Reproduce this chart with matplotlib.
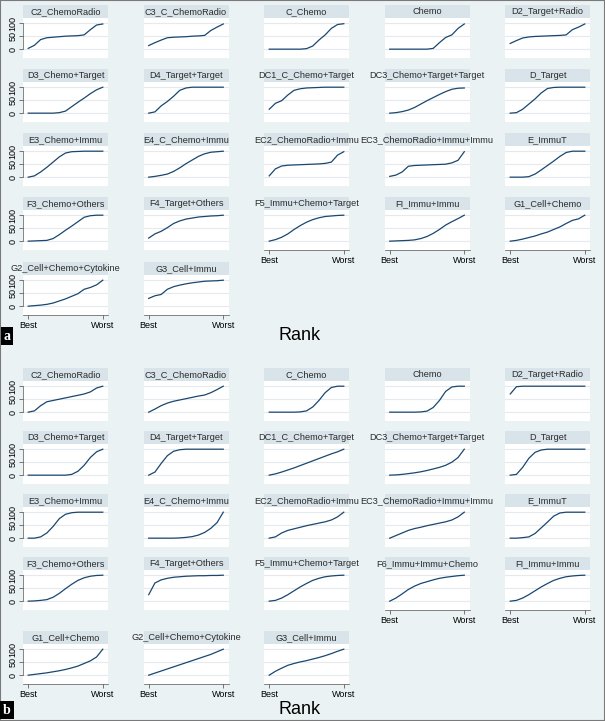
import matplotlib
matplotlib.use('Agg')
import matplotlib.pyplot as plt
from matplotlib.patches import Rectangle

plt.rcParams['font.family'] = ['Liberation Sans', 'DejaVu Sans']

# rank position, 0 = Best, 1 = Worst
rank_pos = [0, 1/12, 2/12, 3/12, 4/12, 5/12, 6/12, 7/12, 8/12, 9/12, 10/12, 11/12, 1]

# ---- panel a: cumulative ranking curves (%)
a_c2_chemoradio = [3, 15, 37, 44, 46, 48, 50, 51, 52, 55, 75, 93, 97]
a_c3_c_chemoradio = [14, 25, 35, 44, 46, 47, 48, 50, 51, 53, 72, 85, 97]
a_c_chemo = [0, 0, 0, 0, 0, 0, 2, 12, 35, 55, 80, 95, 98]
a_chemo = [0, 0, 0, 0, 0, 0, 0, 3, 25, 45, 55, 80, 97]
a_d2_target_radio = [22, 33, 43, 47, 49, 50, 51, 52, 53, 55, 75, 85, 97]
a_d3_chemo_target = [0, 0, 0, 0, 0, 2, 8, 25, 42, 58, 75, 90, 100]
a_d4_target_target = [0, 5, 28, 45, 65, 88, 97, 100, 100, 100, 100, 100, 100]
a_dc1_c_chemo_target = [15, 38, 48, 70, 88, 94, 97, 98, 99, 100, 100, 100, 100]
a_dc3_chemo_target_target = [0, 2, 6, 12, 22, 35, 48, 60, 72, 83, 92, 96, 97]
a_d_target = [0, 2, 15, 35, 55, 78, 95, 99, 100, 100, 100, 100, 100]
a_e3_chemo_immu = [0, 5, 20, 38, 58, 78, 93, 98, 99, 100, 100, 100, 100]
a_e4_c_chemo_immu = [0, 3, 7, 12, 22, 36, 52, 66, 80, 90, 96, 98, 100]
a_ec2_chemoradio_immu = [5, 32, 43, 46, 47, 48, 49, 50, 51, 53, 58, 85, 98]
a_ec3_chemoradio_immu_immu = [3, 8, 20, 42, 45, 46, 47, 48, 49, 50, 55, 65, 98]
a_e_immut = [0, 0, 0, 2, 12, 28, 45, 62, 80, 95, 100, 100, 100]
a_f3_chemo_others = [0, 1, 2, 3, 10, 25, 42, 58, 75, 92, 98, 100, 100]
a_f4_target_others = [12, 28, 38, 52, 68, 78, 85, 89, 93, 95, 97, 98, 100]
a_f5_immu_chemo_target = [0, 6, 15, 28, 45, 60, 73, 83, 90, 95, 97, 99, 100]
a_fi_immu_immu = [0, 1, 2, 3, 5, 10, 18, 30, 45, 62, 75, 87, 100]
a_g1_cell_chemo = [0, 3, 8, 14, 20, 28, 35, 45, 55, 68, 80, 86, 100]
a_g2_cell_chemo_cytokine = [0, 2, 4, 7, 12, 20, 28, 38, 48, 65, 72, 82, 100]
a_g3_cell_immu = [30, 40, 45, 65, 75, 81, 86, 90, 93, 96, 97, 98, 100]

# ---- panel b
b_c2_chemoradio = [0, 5, 25, 40, 45, 50, 55, 60, 65, 70, 78, 93, 100]
b_c3_c_chemoradio = [0, 12, 25, 35, 42, 47, 52, 57, 62, 66, 75, 87, 100]
b_c_chemo = [0, 0, 0, 0, 0, 1, 5, 20, 45, 75, 95, 100, 100]
b_chemo = [0, 0, 0, 0, 0, 1, 4, 18, 45, 80, 97, 100, 100]
b_d2_target_radio = [70, 98, 100, 100, 100, 100, 100, 100, 100, 100, 100, 100, 100]
b_d3_chemo_target = [0, 0, 0, 0, 0, 0, 0, 3, 15, 38, 68, 90, 100]
b_d4_target_target = [0, 12, 45, 75, 92, 98, 100, 100, 100, 100, 100, 100, 100]
b_dc1_c_chemo_target = [0, 5, 12, 20, 28, 37, 46, 55, 64, 73, 82, 90, 100]
b_dc3_chemo_target_target = [0, 1, 3, 6, 9, 13, 18, 24, 30, 38, 50, 68, 100]
b_d_target = [0, 3, 30, 65, 88, 97, 100, 100, 100, 100, 100, 100, 100]
b_e3_chemo_immu = [0, 0, 5, 20, 45, 75, 92, 98, 100, 100, 100, 100, 100]
b_e4_c_chemo_immu = [0, 0, 0, 0, 0, 1, 3, 6, 12, 22, 38, 60, 100]
b_ec2_chemoradio_immu = [0, 5, 20, 30, 36, 42, 48, 53, 58, 63, 70, 82, 100]
b_ec3_chemoradio_immu_immu = [0, 10, 20, 30, 37, 42, 48, 53, 58, 63, 70, 82, 100]
b_e_immut = [0, 0, 2, 5, 18, 40, 62, 85, 97, 100, 100, 100, 100]
b_f3_chemo_others = [0, 1, 3, 6, 15, 30, 48, 65, 80, 90, 96, 99, 100]
b_f4_target_others = [25, 70, 82, 88, 92, 94, 96, 97, 98, 98, 99, 99, 100]
b_f5_immu_chemo_target = [0, 3, 12, 25, 40, 55, 68, 80, 88, 94, 97, 99, 100]
b_f6_immu_immu_chemo = [0, 12, 28, 45, 58, 68, 75, 82, 88, 92, 95, 98, 100]
b_fi_immu_immu = [0, 3, 12, 25, 40, 55, 68, 80, 88, 94, 97, 99, 100]
b_g1_cell_chemo = [0, 3, 6, 9, 13, 17, 22, 28, 35, 45, 55, 70, 100]
b_g2_cell_chemo_cytokine = [0, 8, 16, 24, 32, 40, 48, 56, 64, 72, 80, 90, 100]
b_g3_cell_immu = [0, 15, 27, 38, 45, 51, 56, 62, 68, 75, 83, 92, 100]

panel_a = [
    ("C2_ChemoRadio", a_c2_chemoradio), ("C3_C_ChemoRadio", a_c3_c_chemoradio),
    ("C_Chemo", a_c_chemo), ("Chemo", a_chemo), ("D2_Target+Radio", a_d2_target_radio),
    ("D3_Chemo+Target", a_d3_chemo_target), ("D4_Target+Target", a_d4_target_target),
    ("DC1_C_Chemo+Target", a_dc1_c_chemo_target),
    ("DC3_Chemo+Target+Target", a_dc3_chemo_target_target), ("D_Target", a_d_target),
    ("E3_Chemo+Immu", a_e3_chemo_immu), ("E4_C_Chemo+Immu", a_e4_c_chemo_immu),
    ("EC2_ChemoRadio+Immu", a_ec2_chemoradio_immu),
    ("EC3_ChemoRadio+Immu+Immu", a_ec3_chemoradio_immu_immu), ("E_ImmuT", a_e_immut),
    ("F3_Chemo+Others", a_f3_chemo_others), ("F4_Target+Others", a_f4_target_others),
    ("F5_Immu+Chemo+Target", a_f5_immu_chemo_target), ("FI_Immu+Immu", a_fi_immu_immu),
    ("G1_Cell+Chemo", a_g1_cell_chemo),
    ("G2_Cell+Chemo+Cytokine", a_g2_cell_chemo_cytokine), ("G3_Cell+Immu", a_g3_cell_immu),
]
panel_b = [
    ("C2_ChemoRadio", b_c2_chemoradio), ("C3_C_ChemoRadio", b_c3_c_chemoradio),
    ("C_Chemo", b_c_chemo), ("Chemo", b_chemo), ("D2_Target+Radio", b_d2_target_radio),
    ("D3_Chemo+Target", b_d3_chemo_target), ("D4_Target+Target", b_d4_target_target),
    ("DC1_C_Chemo+Target", b_dc1_c_chemo_target),
    ("DC3_Chemo+Target+Target", b_dc3_chemo_target_target), ("D_Target", b_d_target),
    ("E3_Chemo+Immu", b_e3_chemo_immu), ("E4_C_Chemo+Immu", b_e4_c_chemo_immu),
    ("EC2_ChemoRadio+Immu", b_ec2_chemoradio_immu),
    ("EC3_ChemoRadio+Immu+Immu", b_ec3_chemoradio_immu_immu), ("E_ImmuT", b_e_immut),
    ("F3_Chemo+Others", b_f3_chemo_others), ("F4_Target+Others", b_f4_target_others),
    ("F5_Immu+Chemo+Target", b_f5_immu_chemo_target),
    ("F6_Immu+Immu+Chemo", b_f6_immu_immu_chemo), ("FI_Immu+Immu", b_fi_immu_immu),
    ("G1_Cell+Chemo", b_g1_cell_chemo), ("G2_Cell+Chemo+Cytokine", b_g2_cell_chemo_cytokine),
    ("G3_Cell+Immu", b_g3_cell_immu),
]

W, H = 605, 721
BG = '#eaf2f3'
STRIP = '#d8e4e9'
NAVY = '#1a476f'
GRID = '#e4eaee'

fig = plt.figure(figsize=(W / 100, H / 100), dpi=100)
fig.patch.set_facecolor(BG)

col_x = [23, 143.5, 264, 384.5, 505]
col_w = 85
strip_h = 13
plot_h = 40


def draw_panel(items, row_tops, label, rank_y):
    n = len(items)
    ncol = 5
    for i, (name, vals) in enumerate(items):
        r, c = divmod(i, ncol)
        top = row_tops[r] + strip_h
        ax = fig.add_axes([col_x[c] / W, 1 - (top + plot_h) / H, col_w / W, plot_h / H])
        ax.set_facecolor('white')
        ax.plot(rank_pos, vals, color=NAVY, lw=0.9)
        ax.set_xlim(-0.07, 1.07)
        ax.set_ylim(-34, 120)
        for s in ax.spines.values():
            s.set_visible(False)
        ax.set_yticks([0, 50, 100])
        ax.grid(axis='y', color=GRID, lw=0.8)
        ax.set_axisbelow(True)
        if c == 0:
            ax.spines['left'].set_visible(True)
            ax.spines['left'].set_color('#555555')
            ax.spines['left'].set_linewidth(0.5)
            ax.spines['left'].set_bounds(0, 100)
            ax.tick_params(axis='y', length=3, width=0.5, pad=1, labelsize=6.5,
                           color='#444444')
            for t in ax.get_yticklabels():
                t.set_rotation(90)
                t.set_va('center')
        else:
            ax.tick_params(axis='y', left=False, labelleft=False)
        # last plot in its column -> Best/Worst axis
        if i + ncol >= n:
            ax.set_xticks([0, 1])
            ax.set_xticklabels(['Best', 'Worst'])
            ax.spines['bottom'].set_visible(True)
            ax.spines['bottom'].set_color('#555555')
            ax.spines['bottom'].set_linewidth(0.5)
            ax.tick_params(axis='x', length=3, width=0.5, pad=1, labelsize=6.5,
                           color='#444444')
        else:
            ax.set_xticks([])
        ax.add_patch(Rectangle((0, 1), 1, strip_h / plot_h, transform=ax.transAxes,
                               facecolor=STRIP, edgecolor='none', clip_on=False))
        ax.text(0.5, 1 + strip_h / plot_h / 2, name, transform=ax.transAxes,
                ha='center', va='center', fontsize=6.6, color='#2a2a2a')
    fig.text(300 / W, 1 - rank_y / H, 'Rank', ha='center', va='center', fontsize=13)
    fig.text(7 / W, 1 - (rank_y + 1) / H, label, ha='center', va='center', fontsize=10,
             color='white', fontweight='bold', family='Liberation Serif',
             bbox=dict(boxstyle='square,pad=0.2', facecolor='black', edgecolor='none'))


draw_panel(panel_a, [5, 69, 133, 197, 262], 'a', 335)
draw_panel(panel_b, [368, 431, 494, 557, 631], 'b', 709)

fig.add_artist(Rectangle((0, 0), 1, 1, transform=fig.transFigure, fill=False,
                         edgecolor='#7a7a7a', lw=1.5))

fig.savefig('out.png', dpi=100, facecolor=fig.get_facecolor())
